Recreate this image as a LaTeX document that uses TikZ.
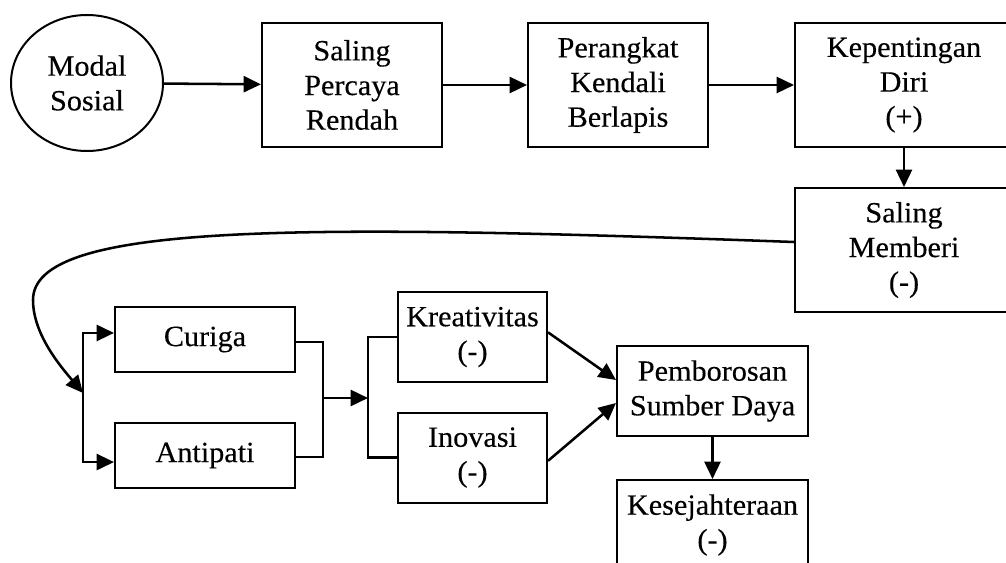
\documentclass[tikz,border=0pt]{standalone}
\usepackage{fontspec}
\setmainfont[FakeStretch=1.03,FakeBold=0.3]{Liberation Serif}
\usepackage{tikz}
\usetikzlibrary{arrows.meta,calc,positioning,shapes.geometric}

\begin{document}
\begin{tikzpicture}[x=0.75pt,y=-0.75pt,>={Triangle[length=13pt,width=12pt]},
  box/.style={draw,line width=1.5pt,align=center,inner sep=2pt,
    font=\fontsize{22}{26}\selectfont},
  tallbox/.style={box,minimum width=135pt,minimum height=93pt},
  flatbox/.style={box,minimum width=135pt,minimum height=48.75pt},
  midbox/.style={box,minimum width=111.75pt,minimum height=67.5pt},
  link/.style={line width=1.9pt},
  arr/.style={link,->}]
  \useasboundingbox (0,0) rectangle (1006,563);
  % top row
  \node[box,ellipse,minimum width=114pt,minimum height=102pt] (modal) at (87,83) {Modal\\Sosial};
  \node[tallbox] (percaya) at (352,85) {Saling\\Percaya\\Rendah};
  \node[tallbox] (perangkat) at (618,85) {Perangkat\\Kendali\\Berlapis};
  \node[tallbox,minimum width=163.5pt] (diri) at (904,85) {Kepentingan\\Diri\\(+)};
  \node[tallbox,minimum width=163.5pt] (memberi) at (904,250) {Saling\\Memberi\\(-)};
  % lower part
  \node[flatbox] (curiga) at (205,339.5) {Curiga};
  \node[flatbox] (antipati) at (205,455.5) {Antipati};
  \node[midbox] (kreatif) at (472.5,337) {Kreativitas\\(-)};
  \node[midbox] (inovasi) at (472.5,457.5) {Inovasi\\(-)};
  \node[midbox,minimum width=143.25pt] (boros) at (712.5,391) {Pemborosan\\Sumber Daya};
  \node[midbox,minimum width=143.25pt] (sejahtera) at (712.5,525) {Kesejahteraan\\(-)};
  \coordinate (fork) at (83,393);
  \coordinate (join) at (323,398);
  \coordinate (split) at (368,398);

  \draw[arr] (modal) -- (percaya);
  \draw[arr] (percaya) -- (perangkat);
  \draw[arr] (perangkat) -- (diri);
  \draw[arr] (diri) -- (memberi);
  \draw[arr] ([yshift=6pt]memberi.west) .. controls (300,224) and (33,222) .. (33,300)
    .. controls (33,335) and (62,368) .. (fork);
  \draw[arr] (fork) |- ([yshift=4.9pt]curiga.west);
  \draw[arr] (fork) |- ([yshift=-4.9pt]antipati.west);
  \draw[link] ([yshift=-2pt]curiga.east) -| (join) |- ([yshift=-1pt]antipati.east);
  \draw[arr] (join) -- (split);
  \draw[link] (kreatif.west) -| (split) |- (inovasi.west);
  \draw[arr] ([yshift=3.5pt]kreatif.east) -- ([yshift=8.25pt]boros.west);
  \draw[arr] ([yshift=-2.5pt]inovasi.east) -- ([yshift=-9pt]boros.west);
  \draw[arr] (boros) -- (sejahtera);
\end{tikzpicture}
\end{document}
